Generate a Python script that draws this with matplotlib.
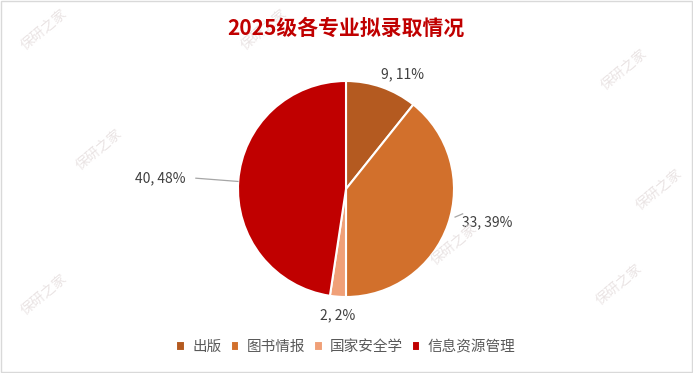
import numpy as np
import matplotlib.pyplot as plt
from matplotlib.patches import Rectangle

plt.rcParams['font.family'] = ['Noto Sans CJK SC', 'DejaVu Sans']

# data
majors = ['出版', '图书情报', '国家安全学', '信息资源管理']
counts = [9, 33, 2, 40]
colors = ['#B45A20', '#D2702C', '#F0A078', '#C00000']
title = '2025级各专业拟录取情况'

total = float(sum(counts))
pcts = [int(round(c / total * 100)) for c in counts]

fig = plt.figure(figsize=(6.93, 3.73), dpi=100)
W, H = 693.0, 373.0

# faint watermarks
wm = [(45, 30), (265, 30), (625, 70), (100, 150), (455, 245), (620, 285),
      (45, 295), (660, 190)]
for x, y in wm:
    fig.text(x / W, 1 - y / H, '保研之家', fontsize=10, color='#EAE4E4',
             rotation=40, ha='center', va='center', zorder=0)

# border
fig.patches.append(Rectangle((0.002, 0.003), 0.996, 0.994, transform=fig.transFigure,
                             fill=False, edgecolor='#D9D9D9', linewidth=1))

cx, cy, r = 346, 189, 108
ax = fig.add_axes([(cx - r) / W, (H - cy - r) / H, 2 * r / W, 2 * r / H])
wedges, _ = ax.pie(counts, colors=colors, startangle=90, counterclock=False,
                   radius=1, wedgeprops=dict(edgecolor='white', linewidth=1.5))
ax.set_xlim(-1, 1)
ax.set_ylim(-1, 1)
ax.set_aspect('equal')
ax.axis('off')

# label positions (pie radius units) and leader lines
label_pos = [(0.52, 1.06), (1.31, -0.31), (-0.08, -1.17), (-1.72, 0.10)]
leaders = [None, ((1.01, -0.26), (1.08, -0.23)), None, ((-1.39, 0.10), (-1.0, 0.07))]
for i, (lx, ly) in enumerate(label_pos):
    ax.text(lx, ly, '%d, %d%%' % (counts[i], pcts[i]), ha='center', va='center',
            fontsize=10, color='#404040', clip_on=False)
    if leaders[i] is not None:
        (x0, y0), (x1, y1) = leaders[i]
        ax.plot([x0, x1], [y0, y1], color='#A6A6A6', linewidth=0.9, clip_on=False)

fig.text(cx / W, 1 - 28 / H, title, ha='center', va='center', fontsize=15,
         fontweight='bold', color='#C00000')

leg = fig.legend(wedges, majors, loc='center', bbox_to_anchor=(cx / W, 1 - 347 / H),
                 ncol=4, frameon=False, fontsize=10.5, handlelength=0.6, handleheight=0.6,
                 handletextpad=0.5, columnspacing=0.6)
for t in leg.get_texts():
    t.set_color('#595959')

fig.savefig('out.png', dpi=100)
